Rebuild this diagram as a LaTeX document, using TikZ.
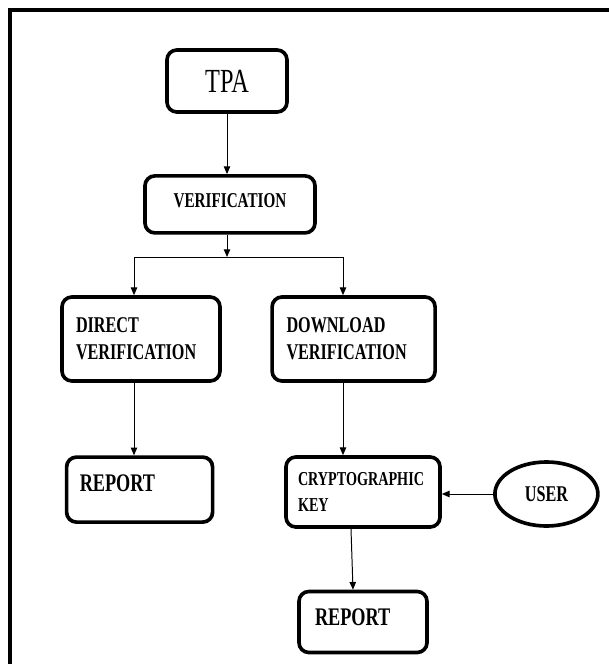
\documentclass[tikz,border=0pt]{standalone}
\usepackage{fontspec}
\setmainfont{Liberation Serif}[FakeStretch=0.72]
\usetikzlibrary{positioning,calc,arrows.meta,shapes.geometric}
\tikzset{
  blk/.style={draw=black,line width=2.6pt,rounded corners=7pt,align=left,
    font=\bfseries\fontsize{16}{19.2}\selectfont},
  oval/.style={draw=black,line width=2.6pt,ellipse,inner sep=0pt,
    font=\bfseries\fontsize{16}{19.2}\selectfont},
  conn/.style={draw=black,line width=0.7pt,-{Triangle[length=5.5pt,width=4.6pt]}},
  frameline/.style={draw=black,line width=2.2pt},
}

\begin{document}
\begin{tikzpicture}
  \useasboundingbox (0,0) rectangle (15.225,-16.6);
  \draw[frameline] (0.25,-16.6) -- (0.25,-0.25) -- (15.225,-0.25);

  % Top: TPA and the verification step.
  \node[blk,align=center,minimum width=3.0cm,minimum height=1.55cm,
    font=\fontsize{24}{28}\selectfont] (tpa) at (5.675,-2.025) {TPA};
  \node[blk,align=center,minimum width=4.25cm,minimum height=1.425cm,
    font=\bfseries\fontsize{15}{18}\selectfont,text depth=0.2cm] (verif) at (5.75,-5.11) {VERIFICATION};

  \coordinate (split) at (5.675,-6.425);
  \coordinate (jl) at (3.35,-6.425);
  \coordinate (jr) at (8.575,-6.425);

  % Middle: the two ways to verify.
  \node[blk,text width=3.25cm,inner xsep=0.35cm,minimum height=2.1cm] (direct)
    at (3.525,-8.475) {DIRECT\\VERIFICATION};
  \node[blk,text width=3.355cm,inner xsep=0.36cm,minimum height=2.1cm] (download)
    at (8.84,-8.475) {DOWNLOAD\\VERIFICATION};

  % Bottom: reports, the key and the user.
  \node[blk,text width=2.99cm,inner xsep=0.33cm,minimum height=1.625cm,
    font=\bfseries\fontsize{18}{21}\selectfont,text depth=0.3cm] (repleft)
    at (3.49,-12.24) {REPORT};
  \node[blk,text width=3.25cm,inner xsep=0.3cm,minimum height=1.75cm,
    font=\bfseries\fontsize{14}{18.5}\selectfont] (crypto)
    at (9.075,-12.3) {CRYPTOGRAPHIC\\KEY};
  \node[oval,minimum width=2.575cm,minimum height=1.6cm] (user)
    at (13.66,-12.35) {USER};
  \node[blk,text width=2.4cm,inner xsep=0.4cm,minimum height=1.525cm,
    font=\bfseries\fontsize{18}{21}\selectfont,text depth=0.25cm] (repright)
    at (9.075,-15.55) {REPORT};

  \draw[conn] (tpa) -- (tpa |- verif.north);
  \draw[conn] (verif.south -| tpa) -- (split);
  \draw[line width=0.7pt] (jl) -- (jr);
  \draw[conn] (jl) -- (jl |- direct.north);
  \draw[conn] (jr) -- (jr |- download.north);
  \draw[conn] (jl |- direct.south) -- (jl |- repleft.north);
  \draw[conn] (jr |- download.south) -- (jr |- crypto.north);
  \draw[conn] (user.west) -- (user.west -| crypto.east);
  \draw[conn] ($(crypto.south)+(-0.3,0)$) -- ($(repright.north)+(-0.25,0)$);
\end{tikzpicture}
\end{document}
